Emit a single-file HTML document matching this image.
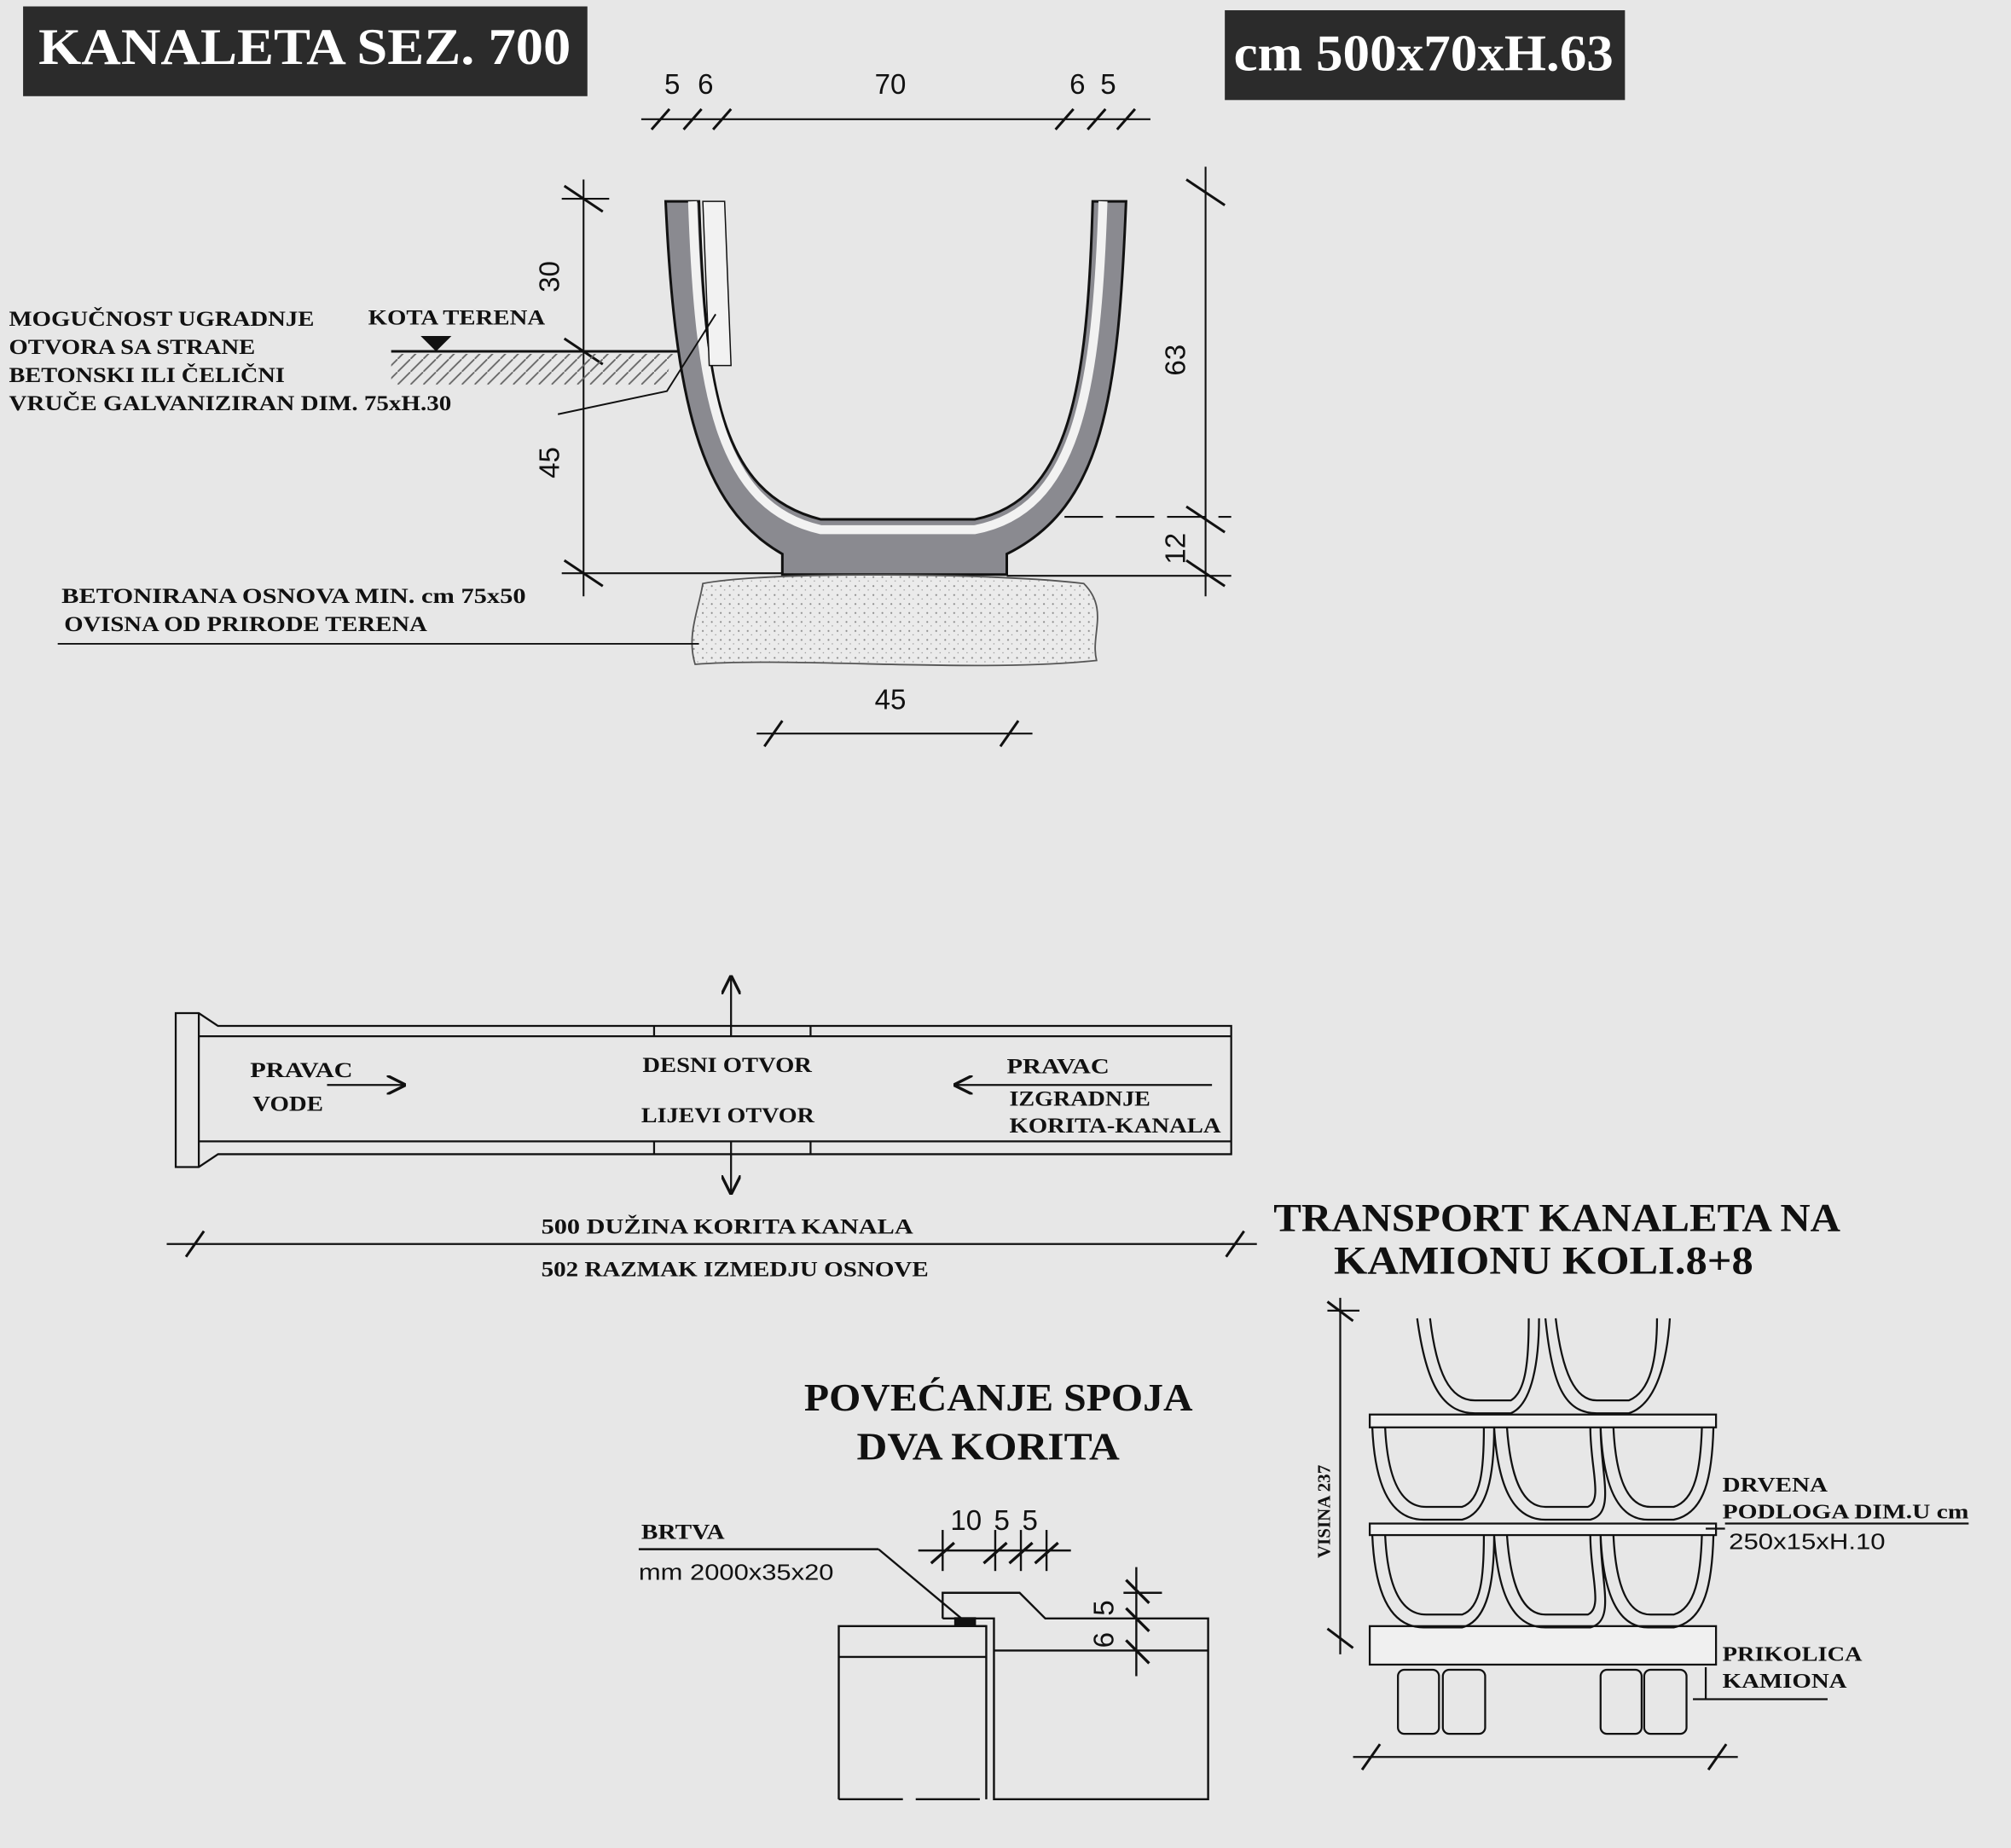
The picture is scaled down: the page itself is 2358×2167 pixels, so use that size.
<!DOCTYPE html>
<html><head><meta charset="utf-8"><style>
html,body{margin:0;padding:0;background:#e6e6e6;}
svg{display:block;}
.s{font-family:"Liberation Serif",serif;font-weight:bold;fill:#111;}
.a{font-family:"Liberation Sans",sans-serif;fill:#111;}
</style></head><body>
<svg width="2358" height="2167" viewBox="0 0 1568 1441" xmlns="http://www.w3.org/2000/svg">
<defs>
<pattern id="hat" width="10" height="10" patternUnits="userSpaceOnUse"><path d="M0,10 L10,0" stroke="#666" stroke-width="1.2"/></pattern>
<pattern id="dots" width="7" height="7" patternUnits="userSpaceOnUse"><rect width="7" height="7" fill="#ebebeb"/><circle cx="2" cy="2" r="0.7" fill="#888"/><circle cx="5" cy="5" r="0.5" fill="#999"/></pattern>
<marker id="ar" markerWidth="10" markerHeight="10" refX="9" refY="5" orient="auto"><path d="M0,0 L10,5 L0,10" fill="none" stroke="#111" stroke-width="1.5"/></marker>
</defs>
<rect width="1568" height="1441" fill="#e7e7e7"/>
<!-- titles -->
<rect x="18" y="5" width="440" height="70" fill="#2b2b2b"/>
<text x="30" y="50" class="s" font-size="40" style="fill:#fff" textLength="415" lengthAdjust="spacingAndGlyphs">KANALETA SEZ. 700</text>
<rect x="955" y="8" width="312" height="70" fill="#2b2b2b"/>
<text x="962" y="55" class="s" font-size="40" style="fill:#fff" textLength="296" lengthAdjust="spacingAndGlyphs">cm 500x70xH.63</text>
<g stroke="#111" stroke-width="1.4" fill="none">
<line x1="500" y1="93" x2="897" y2="93"/>
<g stroke-width="2"><path d="M508,101 L522,85 M533,101 L547,85 M556,101 L570,85 M823,101 L837,85 M848,101 L862,85 M871,101 L885,85"/></g>
<line x1="455" y1="140" x2="455" y2="465"/>
<path d="M440,145 L470,165 M440,264 L470,284 M440,437 L470,457" stroke-width="2"/>
<line x1="438" y1="155" x2="475" y2="155"/>
<line x1="438" y1="447" x2="610" y2="447"/>
<line x1="940" y1="130" x2="940" y2="465"/>
<path d="M925,140 L955,160 M925,395 L955,415 M925,437 L955,457" stroke-width="2"/>
<line x1="830" y1="403" x2="960" y2="403" stroke-dasharray="30,10"/>
<line x1="785" y1="449" x2="960" y2="449"/>
<line x1="305" y1="274" x2="530" y2="274" stroke-width="2"/>
</g>
<path d="M305,276 L525,276 L518,300 L305,300 Z" fill="url(#hat)"/>
<path d="M328,262 L352,262 L340,274 Z" fill="#111"/>
<!-- U channel -->
<path d="M519,157 L545,157 C550,300 560,385 640,405 L760,405 C835,390 848,300 852,157 L878,157 C872,310 860,395 785,432 L785,448 L610,448 L610,432 C545,395 526,310 519,157 Z" fill="#8a8a90" stroke="#111" stroke-width="2"/>
<path d="M540,157 C545,305 560,395 640,413 L760,413 C840,398 855,305 860,157" fill="none" stroke="#f2f2f2" stroke-width="7"/>
<path d="M548,157 L553,285 L570,285 L565,157 Z" fill="#f2f2f2" stroke="#111" stroke-width="1"/>
<path d="M435,323 L520,305 L558,245" fill="none" stroke="#111" stroke-width="1.3"/>
<path d="M548,455 C600,445 780,447 845,455 C865,475 850,495 855,515 C760,525 620,512 542,518 C535,495 545,475 548,455 Z" fill="url(#dots)" stroke="#555" stroke-width="1.2"/>
<line x1="45" y1="502" x2="545" y2="502" stroke="#111" stroke-width="1.3"/>
<g stroke="#111" stroke-width="1.4">
<line x1="590" y1="572" x2="805" y2="572"/>
<path d="M596,582 L610,562 M780,582 L794,562" stroke-width="2"/>
</g>
<g class="a" font-size="22">
<text x="518" y="73">5</text><text x="544" y="73">6</text><text x="682" y="73">70</text><text x="834" y="73">6</text><text x="858" y="73">5</text>
<text x="682" y="553">45</text>
<text transform="translate(436,228) rotate(-90)">30</text>
<text transform="translate(436,373) rotate(-90)">45</text>
<text transform="translate(924,293) rotate(-90)">63</text>
<text transform="translate(924,440) rotate(-90)">12</text>
</g>
<g class="s" font-size="17" lengthAdjust="spacingAndGlyphs">
<text x="287" y="253" textLength="138" lengthAdjust="spacingAndGlyphs">KOTA TERENA</text>
<text x="7" y="254" textLength="238" lengthAdjust="spacingAndGlyphs">MOGUČNOST UGRADNJE</text>
<text x="7" y="276" textLength="192" lengthAdjust="spacingAndGlyphs">OTVORA SA STRANE</text>
<text x="7" y="298" textLength="215" lengthAdjust="spacingAndGlyphs">BETONSKI ILI ČELIČNI</text>
<text x="7" y="320" textLength="345" lengthAdjust="spacingAndGlyphs">VRUČE GALVANIZIRAN  DIM. 75xH.30</text>
<text x="48" y="470" textLength="362" lengthAdjust="spacingAndGlyphs">BETONIRANA OSNOVA    MIN.  cm 75x50</text>
<text x="50" y="492" textLength="283" lengthAdjust="spacingAndGlyphs">OVISNA OD PRIRODE TERENA</text>
</g>
<!-- plan view -->
<g stroke="#111" stroke-width="1.5" fill="none">
<path d="M137,790 L155,790 L170,800 L960,800 L960,900 L170,900 L155,910 L137,910 Z"/>
<line x1="155" y1="790" x2="155" y2="910"/>
<line x1="155" y1="808" x2="960" y2="808"/>
<line x1="155" y1="890" x2="960" y2="890"/>
<line x1="510" y1="800" x2="510" y2="808"/><line x1="632" y1="800" x2="632" y2="808"/>
<line x1="510" y1="890" x2="510" y2="900"/><line x1="632" y1="890" x2="632" y2="900"/>
<line x1="570" y1="808" x2="570" y2="762" marker-end="url(#ar)"/>
<line x1="570" y1="890" x2="570" y2="930" marker-end="url(#ar)"/>
<line x1="255" y1="846" x2="315" y2="846" marker-end="url(#ar)"/>
<line x1="945" y1="846" x2="745" y2="846" marker-end="url(#ar)"/>
<line x1="130" y1="970" x2="980" y2="970"/>
<path d="M145,980 L159,960 M956,980 L970,960" stroke-width="2"/>
</g>
<g class="s" font-size="17">
<text x="195" y="840" textLength="80" lengthAdjust="spacingAndGlyphs">PRAVAC</text><text x="197" y="866" textLength="55" lengthAdjust="spacingAndGlyphs">VODE</text>
<text x="501" y="836" textLength="132" lengthAdjust="spacingAndGlyphs">DESNI OTVOR</text><text x="500" y="875" textLength="135" lengthAdjust="spacingAndGlyphs">LIJEVI OTVOR</text>
<text x="785" y="837" textLength="80" lengthAdjust="spacingAndGlyphs">PRAVAC</text><text x="787" y="862" textLength="110" lengthAdjust="spacingAndGlyphs">IZGRADNJE</text><text x="787" y="883" textLength="165" lengthAdjust="spacingAndGlyphs">KORITA-KANALA</text>
<text x="422" y="962" textLength="290" lengthAdjust="spacingAndGlyphs">500  DUŽINA  KORITA KANALA</text>
<text x="422" y="995" textLength="302" lengthAdjust="spacingAndGlyphs">502  RAZMAK IZMEDJU OSNOVE</text>
</g>
<!-- transport -->
<g class="s" font-size="31"><text x="993" y="960" textLength="442" lengthAdjust="spacingAndGlyphs">TRANSPORT KANALETA NA</text><text x="1040" y="993" textLength="327" lengthAdjust="spacingAndGlyphs">KAMIONU   KOLI.8+8</text></g>
<g stroke="#111" stroke-width="1.5" fill="none">
<line x1="1045" y1="1012" x2="1045" y2="1290"/>
<path d="M1035,1015 L1055,1030 M1035,1270 L1055,1285" stroke-width="2"/>
<line x1="1035" y1="1022" x2="1060" y2="1022"/>
<line x1="1055" y1="1370" x2="1355" y2="1370"/>
<path d="M1062,1380 L1076,1360 M1332,1380 L1346,1360" stroke-width="2"/>
<path d="M1105,1028 C1112,1080 1125,1102 1150,1102 L1178,1102 C1195,1095 1200,1060 1200,1028 M1205,1028 C1210,1080 1220,1102 1245,1102 L1270,1102 C1292,1095 1300,1060 1302,1028"/>
<path d="M1115,1028 C1120,1070 1130,1092 1150,1092 L1178,1092 C1190,1085 1192,1060 1192,1028 M1213,1028 C1218,1070 1228,1092 1245,1092 L1270,1092 C1287,1085 1292,1060 1292,1028"/>
<rect x="1068" y="1103" width="270" height="10" fill="#f0f0f0"/>
<rect x="1068" y="1188" width="270" height="9" fill="#f0f0f0"/>
<rect x="1068" y="1268" width="270" height="30" fill="#f0f0f0"/>
<g id="row">
<path d="M1070,1113 C1072,1160 1085,1185 1110,1185 L1140,1185 C1160,1180 1165,1150 1165,1113 M1165,1113 C1168,1160 1180,1185 1205,1185 L1240,1185 C1260,1180 1248,1150 1248,1113 M1248,1113 C1250,1160 1262,1185 1285,1185 L1305,1185 C1330,1180 1335,1150 1336,1113"/>
<path d="M1080,1113 C1082,1155 1093,1175 1112,1175 L1140,1175 C1155,1170 1157,1145 1157,1113 M1175,1113 C1178,1155 1188,1175 1205,1175 L1238,1175 C1250,1170 1240,1145 1240,1113 M1258,1113 C1260,1155 1270,1175 1287,1175 L1305,1175 C1322,1170 1326,1145 1327,1113"/>
</g>
<use href="#row" transform="translate(0,84)"/>
<rect x="1090" y="1302" width="32" height="50" rx="5"/><rect x="1125" y="1302" width="33" height="50" rx="5"/>
<rect x="1248" y="1302" width="32" height="50" rx="5"/><rect x="1282" y="1302" width="33" height="50" rx="5"/>
<line x1="1330" y1="1192" x2="1345" y2="1192"/><line x1="1330" y1="1300" x2="1330" y2="1325"/><line x1="1320" y1="1325" x2="1425" y2="1325"/>
<line x1="1345" y1="1188" x2="1535" y2="1188"/>
</g>
<text transform="translate(1037,1215) rotate(-90)" class="s" font-size="14">VISINA 237</text>
<g class="s" font-size="16">
<text x="1343" y="1163" textLength="82" lengthAdjust="spacingAndGlyphs">DRVENA</text><text x="1343" y="1184" textLength="192" lengthAdjust="spacingAndGlyphs">PODLOGA  DIM.U cm</text>
<text x="1343" y="1295" textLength="109" lengthAdjust="spacingAndGlyphs">PRIKOLICA</text><text x="1343" y="1316" textLength="97" lengthAdjust="spacingAndGlyphs">KAMIONA</text>
</g>
<text x="1348" y="1208" class="a" font-size="17" textLength="122" lengthAdjust="spacingAndGlyphs">250x15xH.10</text>
<!-- joint -->
<g class="s" font-size="30"><text x="627" y="1100" textLength="303" lengthAdjust="spacingAndGlyphs">POVEĆANJE SPOJA</text><text x="668" y="1138" textLength="205" lengthAdjust="spacingAndGlyphs">DVA KORITA</text></g>
<text x="500" y="1200" class="s" font-size="17" textLength="65" lengthAdjust="spacingAndGlyphs">BRTVA</text>
<text x="498" y="1232" class="a" font-size="17" textLength="152" lengthAdjust="spacingAndGlyphs">mm 2000x35x20</text>
<g stroke="#111" stroke-width="1.6" fill="none">
<line x1="498" y1="1208" x2="685" y2="1208"/><line x1="685" y1="1208" x2="752" y2="1264"/>
<line x1="716" y1="1209" x2="835" y2="1209"/>
<line x1="735" y1="1193" x2="735" y2="1225"/><line x1="776" y1="1193" x2="776" y2="1225"/><line x1="796" y1="1193" x2="796" y2="1225"/><line x1="816" y1="1193" x2="816" y2="1225"/>
<path d="M726,1219 L744,1203 M767,1219 L785,1203 M787,1219 L805,1203 M807,1219 L825,1203" stroke-width="2.2"/>
<line x1="886" y1="1222" x2="886" y2="1307"/>
<line x1="876" y1="1242" x2="906" y2="1242"/>
<path d="M878,1232 L896,1250 M878,1254 L896,1272 M878,1279 L896,1297" stroke-width="2.2"/>
<!-- left block -->
<path d="M654,1403 L654,1268 L769,1268 L769,1403" />
<line x1="654" y1="1292" x2="769" y2="1292"/>
<line x1="654" y1="1403" x2="769" y2="1403" stroke-dasharray="50,10"/>
<!-- right block -->
<path d="M735,1262 L735,1242 L795,1242 L815,1262 L942,1262 L942,1403 L775,1403 L775,1262 L735,1262"/>
<line x1="775" y1="1287" x2="942" y2="1287"/>
<line x1="761" y1="1268" x2="769" y2="1268"/>
</g>
<rect x="744" y="1261" width="17" height="7" fill="#111"/>
<g class="a" font-size="22"><text x="741" y="1193">10</text><text x="775" y="1193">5</text><text x="797" y="1193">5</text>
<text transform="translate(868,1285) rotate(-90)">6</text><text transform="translate(868,1260) rotate(-90)">5</text></g>
</svg>
</body></html>
